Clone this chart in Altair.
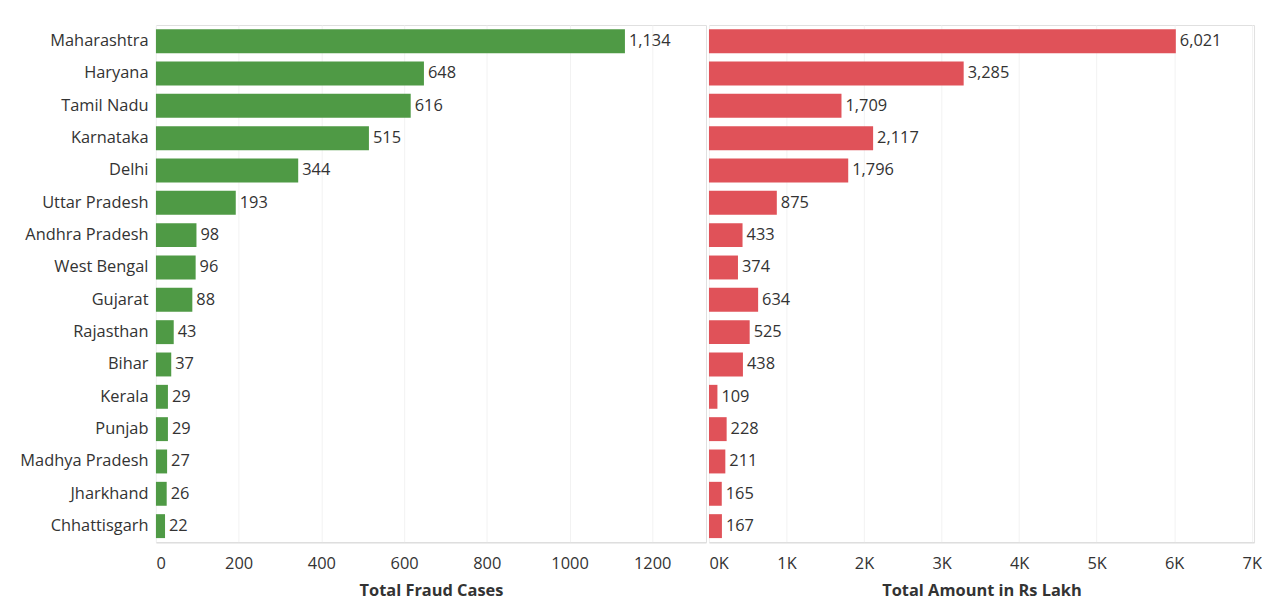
import altair as alt
import pandas as pd

states = ["Maharashtra", "Haryana", "Tamil Nadu", "Karnataka", "Delhi", "Uttar Pradesh",
          "Andhra Pradesh", "West Bengal", "Gujarat", "Rajasthan", "Bihar", "Kerala",
          "Punjab", "Madhya Pradesh", "Jharkhand", "Chhattisgarh"]
fraud_cases = [1134, 648, 616, 515, 344, 193, 98, 96, 88, 43, 37, 29, 29, 27, 26, 22]
amount_lakh = [6021, 3285, 1709, 2117, 1796, 875, 433, 374, 634, 525, 438, 109, 228, 211, 165, 167]

cases_ticks = [0, 200, 400, 600, 800, 1000, 1200]
amount_ticks = [0, 1000, 2000, 3000, 4000, 5000, 6000, 7000]

df = pd.DataFrame({"State": states, "Cases": fraud_cases, "Amount": amount_lakh})

FONT = "Open Sans"
TXT = "#333333"
FS = 16.5
H = 521

ysort = alt.Sort(states)

left_base = alt.Chart(df).encode(
    y=alt.Y("State:N", sort=ysort, title=None,
            scale=alt.Scale(paddingInner=0.26, paddingOuter=0.13),
            axis=alt.Axis(ticks=False, domain=False, labelFontSize=FS, labelFont=FONT,
                          labelColor=TXT, labelPadding=8, minExtent=143, maxExtent=143,
                          labelLimit=200)),
    x=alt.X("Cases:Q", title="Total Fraud Cases",
            scale=alt.Scale(domain=[0, 1330], nice=False),
            axis=alt.Axis(values=cases_ticks, format="d", ticks=False, domainColor="#d9d9d9",
                          gridColor="#f2f2f2", labelFontSize=FS, labelFont=FONT,
                          labelColor=TXT, labelPadding=13, labelFlush=True,
                          titleFontSize=FS, titleFont=FONT, titleColor=TXT,
                          titleFontWeight="bold", titlePadding=11)),
)
left = (left_base.mark_bar(color="#4f9a45") +
        left_base.mark_text(align="left", dx=4, fontSize=FS, font=FONT, color=TXT)
        .encode(text=alt.Text("Cases:Q", format=","))).properties(width=554, height=H)

right_base = alt.Chart(df).encode(
    y=alt.Y("State:N", sort=ysort, title=None, axis=None,
            scale=alt.Scale(paddingInner=0.26, paddingOuter=0.13)),
    x=alt.X("Amount:Q", title="Total Amount in Rs Lakh",
            scale=alt.Scale(domain=[0, 7030], nice=False),
            axis=alt.Axis(values=amount_ticks, ticks=False, domainColor="#d9d9d9",
                          gridColor="#f2f2f2", labelFontSize=FS, labelFont=FONT,
                          labelColor=TXT, labelPadding=13, labelFlush=True,
                          labelExpr="datum.value / 1000 + 'K'",
                          titleFontSize=FS, titleFont=FONT, titleColor=TXT,
                          titleFontWeight="bold", titlePadding=11)),
)
right = (right_base.mark_bar(color="#e05259") +
         right_base.mark_text(align="left", dx=4, fontSize=FS, font=FONT, color=TXT)
         .encode(text=alt.Text("Amount:Q", format=","))).properties(width=549, height=H)

chart = alt.hconcat(left, right, spacing=1).properties(
    padding={"left": 5, "top": 14, "right": 0, "bottom": 0}
).configure_view(stroke="#e0e0e0")

chart.save("out.html", embed_options={"renderer": "svg", "actions": False})
